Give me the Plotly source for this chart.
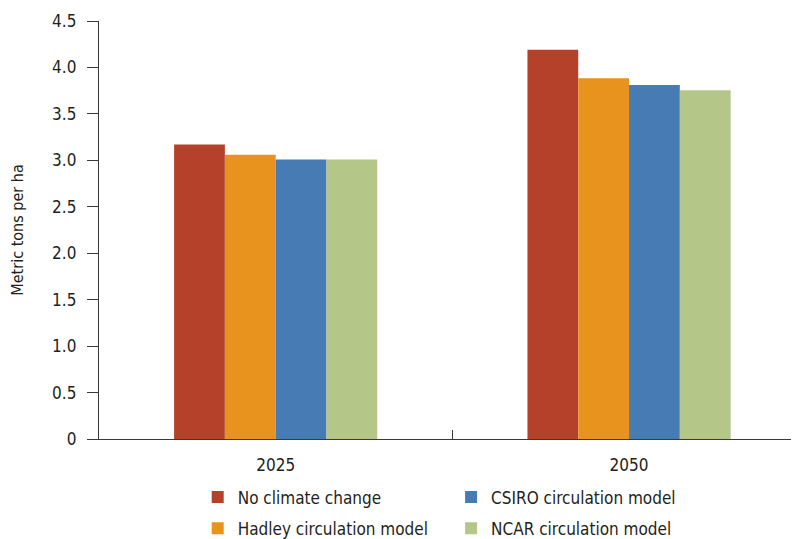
import plotly.graph_objects as go

years = ["2025", "2050"]
series_names = ["No climate change", "Hadley circulation model", "CSIRO circulation model", "NCAR circulation model"]
no_climate = [3.17, 4.19]
hadley = [3.06, 3.885]
csiro = [3.01, 3.81]
ncar = [3.01, 3.755]
colors = ["#B5412B", "#E8931E", "#467BB4", "#B5C689"]
y_ticks = [0, 0.5, 1.0, 1.5, 2.0, 2.5, 3.0, 3.5, 4.0, 4.5]
y_tick_text = ["0", "0.5", "1.0", "1.5", "2.0", "2.5", "3.0", "3.5", "4.0", "4.5"]

FONT = "Liberation Sans Narrow, DejaVu Sans Condensed, Roboto, sans-serif"

values = [no_climate, hadley, csiro, ncar]
legend_ids = ["legend", "legend", "legend2", "legend2"]

fig = go.Figure()
for i, (name, vals) in enumerate(zip(series_names, values)):
    fig.add_trace(go.Bar(
        x=years, y=vals, name=name,
        marker=dict(color=colors[i], line=dict(width=0)),
        legend=legend_ids[i],
        legendgroup=name,
    ))

axis_color = "#3a3a3a"
# page body adds an 8px offset, so the figure is 8px smaller than the window
fig.update_layout(
    width=791, height=531,
    margin=dict(l=91, r=0, t=13, b=100, autoexpand=False),
    paper_bgcolor="white", plot_bgcolor="white",
    font=dict(family=FONT, size=17, color="#231f20"),
    barmode="group", bargap=0.425, bargroupgap=0,
    showlegend=True,
    legend=dict(x=0.141, xanchor="left", y=-0.097, yanchor="top",
                orientation="v", tracegroupgap=6,
                font=dict(family=FONT, size=17, color="#231f20"),
                bgcolor="rgba(0,0,0,0)"),
    legend2=dict(x=0.503, xanchor="left", y=-0.097, yanchor="top",
                 orientation="v", tracegroupgap=6,
                 font=dict(family=FONT, size=17, color="#231f20"),
                 bgcolor="rgba(0,0,0,0)"),
    xaxis=dict(type="category", range=[-0.5, 1.481],
               showline=True, linecolor=axis_color, linewidth=1.3,
               ticks="inside", tickson="boundaries", ticklen=9,
               tickcolor=axis_color, tickwidth=1.3,
               showgrid=False, zeroline=False, ticklabelstandoff=10,
               tickfont=dict(family=FONT, size=17, color="#231f20")),
    yaxis=dict(range=[0, 4.5], tickvals=y_ticks, ticktext=y_tick_text,
               showline=True, linecolor=axis_color, linewidth=1.3,
               ticks="outside", ticklen=11, tickcolor=axis_color, tickwidth=1.3,
               showgrid=False, zeroline=False, ticklabelstandoff=7,
               tickfont=dict(family=FONT, size=17, color="#231f20"),
               title=dict(text="Metric tons per ha", standoff=31,
                          font=dict(family=FONT, size=16, color="#231f20"))),
)

fig.write_html("out.html")
